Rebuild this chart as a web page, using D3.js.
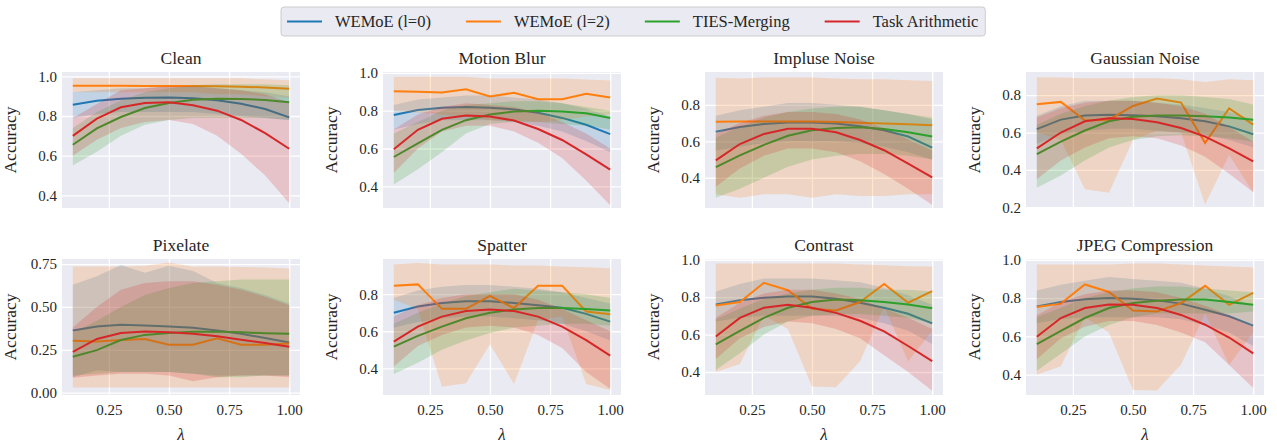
<!DOCTYPE html>
<html lang="en">
<head>
<meta charset="UTF-8">
<title>Accuracy vs lambda</title>
<script src="https://cdn.jsdelivr.net/npm/d3@7/dist/d3.min.js"></script>
<style>
  html, body { margin: 0; background: #fff; }
  svg, svg text { font-family: "Liberation Serif", "Times New Roman", Times, "DejaVu Serif", serif !important; }
  svg text { fill: #262626; }
</style>
</head>
<body>
<script>
// lambda values (x)
const lambdas = [0.1, 0.2, 0.3, 0.4, 0.5, 0.6, 0.7, 0.8, 0.9, 1.0]
const methods = ['WEMoE (l=0)', 'WEMoE (l=2)', 'TIES-Merging', 'Task Arithmetic']
const colors = ['#1f77b4', '#ff7f0e', '#2ca02c', '#d62728']
const titles = ['Clean', 'Motion Blur', 'Impluse Noise', 'Gaussian Noise', 'Pixelate', 'Spatter', 'Contrast', 'JPEG Compression']
const xTicks = [0.25, 0.5, 0.75, 1.0]
const yTicks = [
  [0.4, 0.6, 0.8, 1.0], [0.4, 0.6, 0.8, 1.0], [0.4, 0.6, 0.8], [0.2, 0.4, 0.6, 0.8],
  [0, 0.25, 0.5, 0.75], [0.4, 0.6, 0.8], [0.4, 0.6, 0.8, 1.0], [0.4, 0.6, 0.8, 1.0]
]
const yDomains = [
  [0.336, 1.022], [0.285, 1.005], [0.234, 0.98], [0.196, 0.924],
  [-0.014, 0.78], [0.256, 0.99], [0.277, 1.004], [0.294, 1.004]
]

// each: [WEMoE l=0, WEMoE l=2, TIES, Task Arithmetic]
const cleanMean = [
  [0.857, 0.877, 0.887, 0.892, 0.894, 0.890, 0.879, 0.862, 0.835, 0.793],
  [0.953, 0.953, 0.953, 0.952, 0.952, 0.951, 0.950, 0.948, 0.944, 0.937],
  [0.655, 0.738, 0.795, 0.840, 0.866, 0.882, 0.887, 0.886, 0.881, 0.869],
  [0.700, 0.787, 0.844, 0.866, 0.869, 0.854, 0.827, 0.780, 0.714, 0.635]]
const cleanLo = [
  [0.79, 0.81, 0.82, 0.82, 0.82, 0.82, 0.81, 0.80, 0.79, 0.78],
  [0.92, 0.92, 0.92, 0.92, 0.92, 0.92, 0.91, 0.91, 0.90, 0.89],
  [0.55, 0.62, 0.70, 0.756, 0.78, 0.79, 0.79, 0.79, 0.79, 0.78],
  [0.60, 0.68, 0.74, 0.77, 0.78, 0.76, 0.70, 0.61, 0.50, 0.36]]
const cleanHi = [
  [0.92, 0.93, 0.94, 0.94, 0.95, 0.95, 0.94, 0.93, 0.92, 0.90],
  [0.99, 0.99, 0.99, 0.99, 0.99, 0.99, 0.99, 0.99, 0.985, 0.98],
  [0.74, 0.82, 0.88, 0.92, 0.94, 0.955, 0.96, 0.96, 0.96, 0.955],
  [0.79, 0.86, 0.93, 0.94, 0.95, 0.95, 0.94, 0.93, 0.91, 0.87]]

const blurMean = [
  [0.777, 0.804, 0.816, 0.820, 0.816, 0.807, 0.789, 0.762, 0.726, 0.676],
  [0.903, 0.900, 0.897, 0.914, 0.876, 0.895, 0.861, 0.861, 0.890, 0.870],
  [0.555, 0.627, 0.699, 0.750, 0.780, 0.796, 0.800, 0.796, 0.786, 0.762],
  [0.596, 0.699, 0.757, 0.775, 0.769, 0.748, 0.703, 0.645, 0.569, 0.488]]
const blurLo = [
  [0.70, 0.73, 0.75, 0.75, 0.75, 0.74, 0.72, 0.69, 0.64, 0.58],
  [0.80, 0.79, 0.78, 0.77, 0.75, 0.75, 0.74, 0.75, 0.77, 0.78],
  [0.41, 0.49, 0.58, 0.68, 0.73, 0.74, 0.74, 0.73, 0.72, 0.70],
  [0.47, 0.60, 0.69, 0.72, 0.72, 0.69, 0.63, 0.55, 0.43, 0.30]]
const blurHi = [
  [0.83, 0.86, 0.87, 0.88, 0.88, 0.87, 0.86, 0.84, 0.81, 0.77],
  [0.98, 0.98, 0.98, 0.98, 0.97, 0.97, 0.97, 0.97, 0.965, 0.96],
  [0.68, 0.74, 0.80, 0.83, 0.84, 0.85, 0.85, 0.84, 0.82, 0.80],
  [0.70, 0.78, 0.82, 0.84, 0.83, 0.82, 0.79, 0.74, 0.68, 0.60]]

const impulseMean = [
  [0.652, 0.678, 0.695, 0.703, 0.703, 0.697, 0.682, 0.660, 0.626, 0.565],
  [0.707, 0.708, 0.708, 0.709, 0.708, 0.706, 0.702, 0.698, 0.694, 0.688],
  [0.458, 0.523, 0.580, 0.630, 0.660, 0.673, 0.677, 0.667, 0.650, 0.626],
  [0.495, 0.585, 0.640, 0.669, 0.669, 0.649, 0.607, 0.551, 0.477, 0.402]]
const impulseLo = [
  [0.55, 0.57, 0.59, 0.60, 0.60, 0.60, 0.59, 0.57, 0.54, 0.50],
  [0.31, 0.29, 0.31, 0.31, 0.29, 0.31, 0.30, 0.30, 0.31, 0.31],
  [0.29, 0.34, 0.40, 0.46, 0.50, 0.52, 0.53, 0.53, 0.52, 0.50],
  [0.35, 0.45, 0.52, 0.56, 0.56, 0.54, 0.49, 0.42, 0.34, 0.25]]
const impulseHi = [
  [0.74, 0.77, 0.79, 0.81, 0.81, 0.80, 0.79, 0.77, 0.75, 0.72],
  [0.948, 0.945, 0.95, 0.95, 0.95, 0.945, 0.94, 0.94, 0.935, 0.93],
  [0.62, 0.68, 0.73, 0.76, 0.78, 0.79, 0.79, 0.77, 0.75, 0.73],
  [0.64, 0.70, 0.74, 0.76, 0.76, 0.75, 0.72, 0.67, 0.61, 0.55]]

const gaussMean = [
  [0.618, 0.669, 0.691, 0.695, 0.693, 0.687, 0.676, 0.660, 0.633, 0.591],
  [0.751, 0.764, 0.664, 0.669, 0.742, 0.782, 0.760, 0.545, 0.729, 0.642],
  [0.484, 0.551, 0.611, 0.660, 0.684, 0.691, 0.691, 0.687, 0.680, 0.669],
  [0.515, 0.600, 0.660, 0.676, 0.673, 0.655, 0.624, 0.578, 0.515, 0.445]]
const gaussLo = [
  [0.54, 0.59, 0.61, 0.62, 0.62, 0.61, 0.60, 0.59, 0.56, 0.52],
  [0.60, 0.56, 0.296, 0.278, 0.56, 0.61, 0.60, 0.215, 0.48, 0.28],
  [0.305, 0.37, 0.45, 0.52, 0.56, 0.58, 0.585, 0.58, 0.57, 0.55],
  [0.35, 0.45, 0.52, 0.57, 0.58, 0.57, 0.53, 0.47, 0.38, 0.28]]
const gaussHi = [
  [0.69, 0.74, 0.77, 0.77, 0.77, 0.76, 0.75, 0.73, 0.71, 0.67],
  [0.896, 0.895, 0.89, 0.89, 0.89, 0.89, 0.885, 0.87, 0.885, 0.88],
  [0.64, 0.70, 0.74, 0.77, 0.79, 0.80, 0.80, 0.79, 0.78, 0.75],
  [0.68, 0.73, 0.76, 0.77, 0.77, 0.76, 0.74, 0.70, 0.63, 0.55]]

const pixMean = [
  [0.362, 0.386, 0.396, 0.392, 0.386, 0.378, 0.362, 0.343, 0.319, 0.293],
  [0.303, 0.299, 0.307, 0.313, 0.280, 0.280, 0.317, 0.280, 0.280, 0.287],
  [0.209, 0.248, 0.307, 0.337, 0.348, 0.356, 0.356, 0.352, 0.346, 0.343],
  [0.238, 0.313, 0.348, 0.356, 0.352, 0.343, 0.329, 0.309, 0.289, 0.268]]
const pixLo = [
  [0.09, 0.13, 0.12, 0.12, 0.12, 0.11, 0.10, 0.10, 0.10, 0.10],
  [0.03, 0.03, 0.03, 0.03, 0.03, 0.03, 0.03, 0.03, 0.03, 0.03],
  [0.10, 0.11, 0.12, 0.12, 0.12, 0.11, 0.09, 0.09, 0.10, 0.10],
  [0.086, 0.10, 0.11, 0.11, 0.10, 0.067, 0.09, 0.10, 0.10, 0.09]]
const pixHi = [
  [0.63, 0.68, 0.745, 0.70, 0.74, 0.71, 0.64, 0.61, 0.57, 0.52],
  [0.736, 0.736, 0.736, 0.74, 0.76, 0.735, 0.736, 0.733, 0.73, 0.725],
  [0.35, 0.42, 0.50, 0.57, 0.61, 0.64, 0.65, 0.66, 0.66, 0.66],
  [0.38, 0.50, 0.60, 0.64, 0.65, 0.65, 0.63, 0.60, 0.56, 0.51]]

const spatMean = [
  [0.700, 0.734, 0.753, 0.762, 0.762, 0.753, 0.740, 0.727, 0.694, 0.652],
  [0.846, 0.853, 0.721, 0.721, 0.791, 0.725, 0.846, 0.846, 0.707, 0.692],
  [0.517, 0.575, 0.625, 0.670, 0.700, 0.718, 0.725, 0.725, 0.720, 0.712],
  [0.544, 0.625, 0.679, 0.709, 0.718, 0.709, 0.679, 0.625, 0.552, 0.469]]
const spatLo = [
  [0.62, 0.65, 0.67, 0.68, 0.68, 0.67, 0.66, 0.64, 0.60, 0.55],
  [0.77, 0.72, 0.30, 0.32, 0.53, 0.316, 0.66, 0.68, 0.316, 0.283],
  [0.37, 0.43, 0.50, 0.55, 0.59, 0.62, 0.63, 0.64, 0.64, 0.63],
  [0.41, 0.52, 0.58, 0.62, 0.63, 0.62, 0.58, 0.51, 0.38, 0.29]]
const spatHi = [
  [0.78, 0.82, 0.84, 0.85, 0.85, 0.84, 0.83, 0.81, 0.78, 0.75],
  [0.96, 0.968, 0.96, 0.96, 0.96, 0.955, 0.955, 0.95, 0.945, 0.94],
  [0.64, 0.70, 0.75, 0.79, 0.81, 0.83, 0.82, 0.81, 0.80, 0.78],
  [0.68, 0.74, 0.78, 0.80, 0.80, 0.80, 0.77, 0.72, 0.66, 0.60]]

const contrastMean = [
  [0.761, 0.783, 0.797, 0.803, 0.803, 0.792, 0.770, 0.743, 0.711, 0.660],
  [0.756, 0.774, 0.877, 0.837, 0.738, 0.729, 0.774, 0.870, 0.770, 0.832],
  [0.548, 0.620, 0.689, 0.743, 0.774, 0.787, 0.783, 0.774, 0.761, 0.741],
  [0.590, 0.689, 0.743, 0.760, 0.743, 0.716, 0.674, 0.617, 0.539, 0.458]]
const contrastLo = [
  [0.67, 0.69, 0.70, 0.70, 0.70, 0.70, 0.69, 0.66, 0.62, 0.55],
  [0.40, 0.443, 0.70, 0.63, 0.322, 0.318, 0.457, 0.75, 0.457, 0.62],
  [0.41, 0.50, 0.60, 0.67, 0.70, 0.71, 0.71, 0.70, 0.69, 0.66],
  [0.47, 0.58, 0.64, 0.67, 0.66, 0.63, 0.58, 0.49, 0.40, 0.30]]
const contrastHi = [
  [0.83, 0.87, 0.90, 0.90, 0.90, 0.89, 0.88, 0.85, 0.81, 0.76],
  [0.98, 0.98, 0.98, 0.98, 0.98, 0.98, 0.975, 0.97, 0.965, 0.964],
  [0.68, 0.74, 0.79, 0.82, 0.84, 0.85, 0.85, 0.84, 0.84, 0.83],
  [0.69, 0.77, 0.82, 0.84, 0.84, 0.82, 0.79, 0.74, 0.69, 0.63]]

const jpegMean = [
  [0.756, 0.780, 0.794, 0.800, 0.797, 0.788, 0.771, 0.739, 0.705, 0.656],
  [0.753, 0.771, 0.871, 0.832, 0.735, 0.730, 0.774, 0.864, 0.765, 0.827],
  [0.559, 0.629, 0.696, 0.748, 0.774, 0.786, 0.792, 0.792, 0.780, 0.765],
  [0.598, 0.696, 0.748, 0.767, 0.765, 0.748, 0.712, 0.661, 0.594, 0.511]]
const jpegLo = [
  [0.67, 0.69, 0.70, 0.70, 0.70, 0.70, 0.69, 0.66, 0.62, 0.55],
  [0.40, 0.444, 0.70, 0.62, 0.32, 0.317, 0.453, 0.72, 0.45, 0.62],
  [0.42, 0.51, 0.60, 0.66, 0.70, 0.72, 0.72, 0.72, 0.72, 0.73],
  [0.48, 0.59, 0.65, 0.68, 0.68, 0.66, 0.62, 0.57, 0.45, 0.33]]
const jpegHi = [
  [0.84, 0.87, 0.89, 0.91, 0.90, 0.89, 0.88, 0.85, 0.81, 0.76],
  [0.975, 0.975, 0.975, 0.975, 0.98, 0.98, 0.975, 0.97, 0.965, 0.96],
  [0.70, 0.75, 0.80, 0.83, 0.85, 0.86, 0.86, 0.85, 0.84, 0.83],
  [0.71, 0.78, 0.82, 0.84, 0.84, 0.83, 0.80, 0.76, 0.71, 0.65]]

const panels = [
  [cleanMean, cleanLo, cleanHi], [blurMean, blurLo, blurHi],
  [impulseMean, impulseLo, impulseHi], [gaussMean, gaussLo, gaussHi],
  [pixMean, pixLo, pixHi], [spatMean, spatLo, spatHi],
  [contrastMean, contrastLo, contrastHi], [jpegMean, jpegLo, jpegHi]
]

// layout
const W = 1277, H = 444
const colLeft = [62, 383, 705, 1026]
const rowTop = [72, 259]
const pw = 238, ph = 136
const serif = '"Liberation Serif", "Times New Roman", Times, "DejaVu Serif", serif'

const svg = d3.select('body').append('svg')
  .attr('width', W).attr('height', H)
  .attr('font-family', serif)

const x = d3.scaleLinear().domain([0.055, 1.045]).range([0, pw])

panels.forEach(([mean, lo, hi], p) => {
  const col = p % 4, row = Math.floor(p / 4)
  const g = svg.append('g').attr('transform', `translate(${colLeft[col]},${rowTop[row]})`)
  const y = d3.scaleLinear().domain(yDomains[p]).range([ph, 0])

  g.append('rect').attr('width', pw).attr('height', ph).attr('fill', '#eaeaf2')

  // grid + tick labels
  const gy = g.append('g').call(d3.axisLeft(y).tickValues(yTicks[p]).tickSize(-pw).tickPadding(5)
    .tickFormat(d3.format(p === 4 ? '.2f' : '.1f')))
  const gx = g.append('g').attr('transform', `translate(0,${ph})`)
    .call(d3.axisBottom(x).tickValues(xTicks).tickSize(-ph).tickPadding(9)
      .tickFormat(row === 1 ? d3.format('.2f') : ''))
  ;[gx, gy].forEach(a => {
    a.attr('font-family', serif)
    a.select('.domain').remove()
    a.selectAll('line').attr('stroke', '#fff').attr('stroke-width', 1.3)
    a.selectAll('text').attr('font-size', 15).attr('fill', '#262626')
  })

  const area = d3.area().x((d, i) => x(lambdas[i])).y0(d => y(d[0])).y1(d => y(d[1]))
  const line = d3.line().x((d, i) => x(lambdas[i])).y(d => y(d))

  methods.forEach((m, k) => {
    g.append('path')
      .datum(lo[k].map((v, i) => [v, hi[k][i]]))
      .attr('d', area)
      .attr('fill', colors[k]).attr('fill-opacity', 0.2)
    g.append('path')
      .datum(mean[k])
      .attr('d', line)
      .attr('fill', 'none').attr('stroke', colors[k]).attr('stroke-width', 2)
  })

  g.append('text').attr('x', pw / 2).attr('y', -8)
    .attr('text-anchor', 'middle').attr('font-size', 17.5).text(titles[p])

  g.append('text')
    .attr('transform', `translate(-46,${ph / 2}) rotate(-90)`)
    .attr('text-anchor', 'middle').attr('font-size', 17.5).text('Accuracy')

  if (row === 1) {
    g.append('text').attr('x', pw / 2).attr('y', ph + 45)
      .attr('text-anchor', 'middle').attr('font-size', 17)
      .attr('font-style', 'italic').text('λ')
  }
})

// legend
const leg = svg.append('g')
const legBox = leg.append('rect')
  .attr('x', 281).attr('y', 7).attr('height', 29).attr('rx', 3)
  .attr('fill', '#eaeaf2').attr('stroke', '#cccccc').attr('stroke-width', 1)
let lx = 287
methods.forEach((m, k) => {
  leg.append('line').attr('x1', lx).attr('x2', lx + 35).attr('y1', 21.5).attr('y2', 21.5)
    .attr('stroke', colors[k]).attr('stroke-width', 2)
  const t = leg.append('text').attr('x', lx + 48).attr('y', 27)
    .attr('font-size', 16.5).text(m)
  lx += 48 + t.node().getComputedTextLength() + 35
})
legBox.attr('width', lx - 35 + 7 - 281)
</script>
</body>
</html>
